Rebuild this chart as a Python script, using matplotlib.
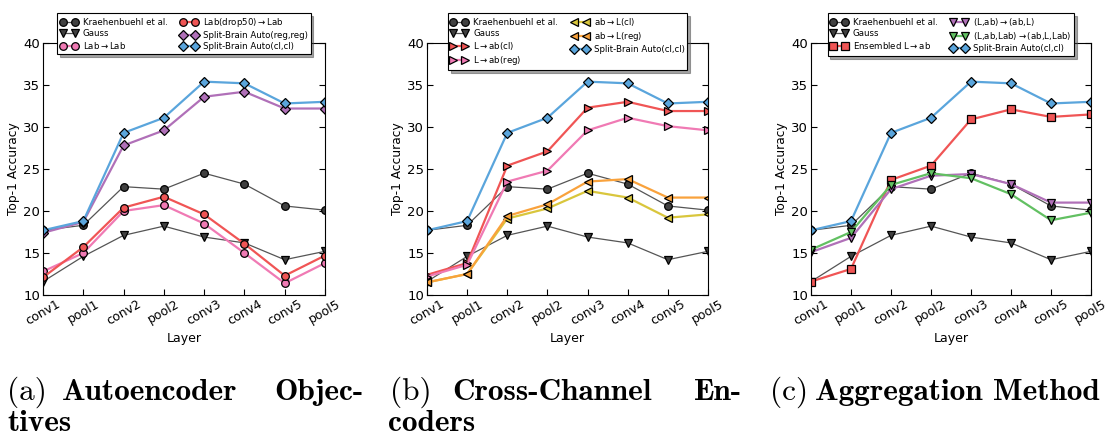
import matplotlib
matplotlib.use('Agg')
import matplotlib.pyplot as plt

# layer names along the x axis
layers = ['conv1', 'pool1', 'conv2', 'pool2', 'conv3', 'conv4', 'conv5', 'pool5']

# shared baselines
kraehenbuehl = [17.7, 18.3, 22.9, 22.6, 24.5, 23.2, 20.6, 20.1]
gauss = [11.6, 14.6, 17.1, 18.2, 16.9, 16.2, 14.2, 15.2]
split_cl_cl = [17.7, 18.8, 29.3, 31.1, 35.4, 35.2, 32.8, 33.0]

# (a) autoencoder objectives
lab_lab = [12.8, 15.0, 20.0, 20.7, 18.5, 15.0, 11.4, 13.8]
lab_drop50 = [12.1, 15.7, 20.4, 21.7, 19.6, 16.1, 12.3, 14.7]
split_reg_reg = [17.4, 18.7, 27.8, 29.6, 33.6, 34.2, 32.2, 32.2]

# (b) cross-channel encoders
l_ab_cl = [12.4, 13.8, 25.4, 27.1, 32.3, 33.0, 31.9, 31.9]
l_ab_reg = [12.2, 13.6, 23.5, 24.8, 29.6, 31.1, 30.1, 29.6]
ab_l_cl = [11.5, 12.5, 19.1, 20.3, 22.4, 21.6, 19.2, 19.6]
ab_l_reg = [11.5, 12.5, 19.4, 20.8, 23.5, 23.8, 21.6, 21.6]

# (c) aggregation methods
ensembled = [11.6, 13.1, 23.7, 25.4, 30.9, 32.1, 31.2, 31.5]
lab_swap = [15.1, 16.8, 22.6, 24.2, 24.4, 23.2, 21.0, 21.0]
lab_swap3 = [15.4, 17.5, 23.1, 24.5, 23.9, 22.0, 18.9, 19.8]

BLUE = '#5aa5dc'
PURPLE = '#b070b8'
RED = '#f05555'
PINK = '#f07ab4'
YELLOW = '#d9c63c'
ORANGE = '#f9a23c'
GREEN = '#62c062'

W, H = 1109, 438
fig = plt.figure(figsize=(W / 100, H / 100), dpi=100)


def px_axes(left, right, top, bottom):
    return fig.add_axes([left / W, 1 - bottom / H, (right - left) / W, (bottom - top) / H])


def draw(ax, y, color, marker, label, ms=5.5, lw=1.6, mfc=None):
    ax.plot(range(len(layers)), y, color=color, lw=lw, marker=marker,
            ms=ms, mfc=mfc or color, mec='black', mew=0.9, label=label)


def baselines(ax):
    draw(ax, kraehenbuehl, '#555555', 'o', 'Kraehenbuehl et al.', lw=0.9, mfc='#404040')
    draw(ax, gauss, '#555555', 'v', 'Gauss', lw=0.9, mfc='#404040')


def style(ax):
    ax.set_xlim(0, 7)
    ax.set_ylim(10, 40)
    ax.set_yticks(range(10, 41, 5))
    ax.set_xticks(range(len(layers)))
    ax.set_xticklabels(layers, rotation=30, fontsize=9)
    ax.tick_params(axis='y', labelsize=9.5)
    ax.tick_params(direction='in', length=4, width=0.8, top=True, right=True, pad=2)
    ax.set_ylabel('Top-1 Accuracy', fontsize=8.8, labelpad=2)
    ax.set_xlabel('Layer', fontsize=9)
    ax.xaxis.set_label_coords(0.5, -0.147)
    leg = ax.legend(loc='upper center', bbox_to_anchor=(0.5, 1.135), ncol=2,
                    fontsize=6.25, numpoints=2, fancybox=False, shadow=True,
                    handlelength=2.0, handletextpad=0.6, columnspacing=1.5,
                    labelspacing=0.25, borderpad=0.3, framealpha=1)
    leg.get_frame().set_edgecolor('black')
    leg.get_frame().set_linewidth(0.8)


# (a)
ax = px_axes(43, 325, 43, 295)
baselines(ax)
draw(ax, lab_lab, PINK, 'o', r'Lab$\rightarrow$Lab')
draw(ax, lab_drop50, RED, 'o', r'Lab(drop50)$\rightarrow$Lab')
draw(ax, split_reg_reg, PURPLE, 'D', 'Split-Brain Auto(reg,reg)')
draw(ax, split_cl_cl, BLUE, 'D', 'Split-Brain Auto(cl,cl)')
style(ax)

# (b)
ax = px_axes(427, 708, 43, 295)
baselines(ax)
draw(ax, l_ab_cl, RED, '>', r'L$\rightarrow$ab(cl)')
draw(ax, l_ab_reg, PINK, '>', r'L$\rightarrow$ab(reg)')
draw(ax, ab_l_cl, YELLOW, '<', r'ab$\rightarrow$L(cl)')
draw(ax, ab_l_reg, ORANGE, '<', r'ab$\rightarrow$L(reg)')
draw(ax, split_cl_cl, BLUE, 'D', 'Split-Brain Auto(cl,cl)')
style(ax)

# (c)
ax = px_axes(811, 1091, 43, 295)
baselines(ax)
draw(ax, ensembled, RED, 's', r'Ensembled L$\rightarrow$ab')
draw(ax, lab_swap, PURPLE, 'v', r'(L,ab)$\rightarrow$(ab,L)')
draw(ax, lab_swap3, GREEN, 'v', r'(L,ab,Lab)$\rightarrow$(ab,L,Lab)')
draw(ax, split_cl_cl, BLUE, 'D', 'Split-Brain Auto(cl,cl)')
style(ax)

# subfigure captions, justified word by word
CAP = 22.5


def word(x, y, s, bold=True, ha='left'):
    fig.text(x / W, 1 - y / H, s, fontsize=CAP, ha=ha, va='baseline',
             family='cmb10' if bold else 'cmr10')


word(7, 400, '(a)', bold=False)
word(62, 400, 'Autoencoder')
word(363, 400, 'Objec-', ha='right')
word(7, 431, 'tives')

word(390, 400, '(b)', bold=False)
word(452, 400, 'Cross-Channel')
word(742, 400, 'En-', ha='right')
word(388, 431, 'coders')

word(770, 400, '(c)', bold=False)
word(815, 400, 'Aggregation Method')

fig.savefig('out.png', dpi=100)
